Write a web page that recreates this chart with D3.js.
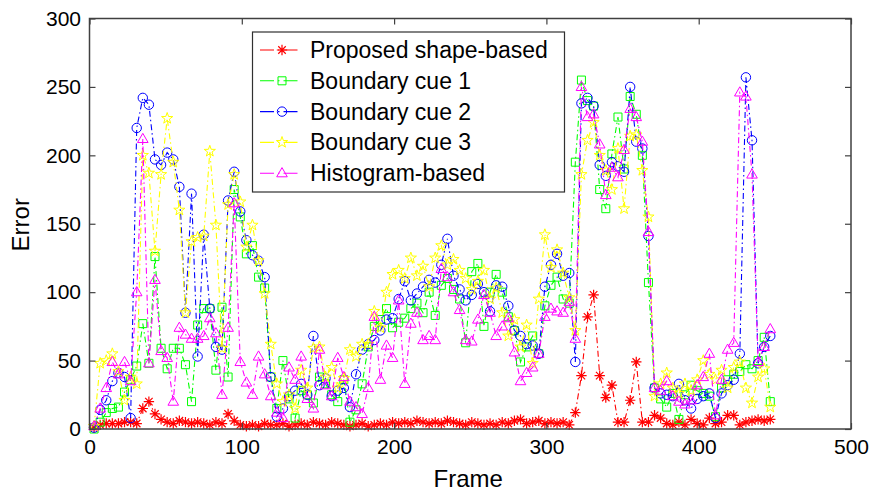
<!DOCTYPE html>
<html>
<head>
<meta charset="utf-8">
<script src="https://cdn.jsdelivr.net/npm/d3@7"></script>
<style>
  html, body { margin: 0; padding: 0; background: #fff; }
  svg { display: block; }
  text { font-family: "Liberation Sans", Arial, Helvetica, sans-serif; fill: #000; }
</style>
</head>
<body>
<svg id="chart" width="872" height="491"></svg>
<script>
// Sampled frame numbers (every 4th frame)
const frames = [3,7,11,15,19,23,27,31,35,39,43,47,51,55,59,63,67,71,75,79,
  83,87,91,95,99,103,107,111,115,119,123,127,131,135,139,143,147,151,155,159,
  163,167,171,175,179,183,187,191,195,199,203,207,211,215,219,223,227,231,235,239,
  243,247,251,255,259,263,267,271,275,279,283,287,291,295,299,303,307,311,315,319,
  323,327,331,335,339,343,347,351,355,359,363,367,371,375,379,383,387,391,395,399,
  403,407,411,415,419,423,427,431,435,439,443,447];

const proposedShape = [1,3,4,4,4,5,5,4,15,20, 11,7,5,4,6,5,4,5,4,3,
  5,4,11,6,3,2,3,2,4,3, 3,4,2,3,4,3,5,4,3,5, 4,3,2,3,4,2,3,4,3,5,
  4,5,4,6,5,4,5,4,6,5, 4,3,5,4,3,4,3,5,4,6, 7,4,5,6,4,5,4,5,3,12,
  39,82,98,39,23,32,5,5,21,49, 5,5,10,8,4,3,5,3,7,4, 3,8,4,5,10,10,3,5,6,7, 6,7];

const boundaryCue1 = [0,5,12,15,16,27,36,46,77,48, 126,59,44,59,59,47,20,76,88,88,
  43,89,38,175,155,128,134,111,103,38, 15,50,22,8,28,25,19,38,33,25,
  20,36,5,14,33,60,75,80,88,74, 78,81,88,92,85,100,83,105,110,102,
  95,63,115,121,75,100,113,100,82,72, 49,60,68,55,90,105,111,95,92,195,
  255,240,236,175,161,201,228,190,243,230, 200,107,30,22,16,26,7,25,32,28,
  26,24,9,30,36,40,42,47,44,50, 67,20];

const boundaryCue2 = [1,14,21,35,41,38,8,220,242,237, 197,193,202,197,177,85,172,53,142,88,
  60,58,167,188,159,138,127,123,111,38, 9,15,24,28,33,25,68,32,37,24,
  28,30,16,40,58,62,65,72,80,81, 95,108,94,99,104,109,107,120,139,112,
  102,94,98,106,100,86,105,104,90,72, 68,62,61,55,104,120,128,112,114,49,
  238,242,236,193,185,195,192,188,250,210, 205,141,30,26,25,24,33,21,15,22,
  24,26,8,26,32,36,55,257,211,48, 60,68];

const boundaryCue3 = [2,48,50,55,42,21,38,33,200,187, 130,186,227,195,160,85,137,140,141,203,
  149,59,164,186,166,133,149,123,99,62, 33,20,25,15,43,30,59,60,38,45,
  30,37,58,53,62,62,86,74,100,113, 116,110,125,112,119,104,125,134,120,124,
  116,110,102,108,116,95,103,85,68,80, 60,76,48,95,142,118,131,114,96,72,
  186,211,224,200,189,175,205,161,214,215, 189,155,24,33,41,30,26,33,28,36,
  50,40,36,43,30,45,49,30,19,38, 44,16];

const histogramBased = [2,15,30,49,40,49,35,100,212,48, 109,57,52,20,74,69,66,66,68,81,
  70,25,74,165,49,34,25,53,40,24, 12,8,45,36,53,22,15,58,32,24,
  52,38,20,16,11,30,82,36,61,52, 94,33,77,85,65,68,65,117,111,100,
  87,65,64,80,98,85,68,75,81,56, 35,41,45,55,82,88,86,85,93,66,
  250,228,230,208,171,191,184,204,234,228, 210,144,30,28,35,24,20,18,21,32,
  38,55,10,36,58,63,246,243,186,49, 60,73];

const xTicks = [0,100,200,300,400,500];
const yTicks = [0,50,100,150,200,250,300];

const seriesNames = ["Proposed shape-based","Boundary cue 1","Boundary cue 2","Boundary cue 3","Histogram-based"];
const seriesValues = [proposedShape, boundaryCue1, boundaryCue2, boundaryCue3, histogramBased];
const seriesColors = ["#ff0000","#00ff00","#0000ff","#ffff00","#ff00ff"];
const seriesMarkers = ["asterisk","square","circle","pentagram","triangle"];

// Marker outline paths centred on the origin
function markerPath(kind) {
  const p = d3.path();
  if (kind === "asterisk") {
    const r = 5.2, d = r * 0.72;
    p.moveTo(-r, 0); p.lineTo(r, 0);
    p.moveTo(0, -r); p.lineTo(0, r);
    p.moveTo(-d, -d); p.lineTo(d, d);
    p.moveTo(-d, d); p.lineTo(d, -d);
  } else if (kind === "square") {
    p.rect(-4, -4, 8, 8);
  } else if (kind === "circle") {
    p.moveTo(4.7, 0);
    p.arc(0, 0, 4.7, 0, 2 * Math.PI);
  } else if (kind === "pentagram") {
    const R = 5.9, r0 = R * 0.40;
    for (let k = 0; k < 10; k++) {
      const a = -Math.PI / 2 + k * Math.PI / 5;
      const rr = k % 2 === 0 ? R : r0;
      const px = rr * Math.cos(a), py = rr * Math.sin(a);
      if (k === 0) p.moveTo(px, py); else p.lineTo(px, py);
    }
    p.closePath();
  } else if (kind === "triangle") {
    p.moveTo(0, -5.6); p.lineTo(5.3, 3.6); p.lineTo(-5.3, 3.6); p.closePath();
  }
  return p.toString();
}

const svg = d3.select("#chart");
const plotLeft = 89.5, plotRight = 851, plotTop = 18.5, plotBottom = 429;

const x = d3.scaleLinear().domain([0, 500]).range([plotLeft, plotRight]);
const y = d3.scaleLinear().domain([0, 300]).range([plotBottom, plotTop]);

const axisColor = "#404040";
const tickFont = 21;

// Series lines and markers, drawn in plotting order
const plot = svg.append("g");
seriesValues.forEach((vals, si) => {
  const pts = frames.map((f, i) => [f, vals[i]]);
  const line = d3.line().x(d => x(d[0])).y(d => y(d[1]));
  const g = plot.append("g");
  g.append("path")
    .attr("d", line(pts))
    .attr("fill", "none")
    .attr("stroke", seriesColors[si])
    .attr("stroke-width", 1.1)
    .attr("stroke-dasharray", "6,3,1.5,3");
  const mp = markerPath(seriesMarkers[si]);
  g.selectAll("path.m").data(pts).enter().append("path")
    .attr("class", "m")
    .attr("d", mp)
    .attr("transform", d => `translate(${x(d[0])},${y(d[1])})`)
    .attr("fill", "none")
    .attr("stroke", seriesColors[si])
    .attr("stroke-width", si === 0 ? 1.2 : 1);
});

// Axes with inward ticks on all four sides
function styleAxis(g) {
  g.select(".domain").remove();
  g.selectAll("line").attr("stroke", axisColor).attr("stroke-width", 1.2);
  g.selectAll("text")
    .style("font-family", '"Liberation Sans", Arial, Helvetica, sans-serif')
    .style("font-size", tickFont + "px")
    .attr("fill", "#000");
}

svg.append("g").attr("transform", `translate(0,${plotBottom})`)
  .call(d3.axisBottom(x).tickValues(xTicks).tickFormat(d3.format("d")).tickSize(-6).tickSizeOuter(0).tickPadding(10))
  .call(styleAxis);
svg.append("g").attr("transform", `translate(0,${plotTop})`)
  .call(d3.axisTop(x).tickValues(xTicks).tickFormat("").tickSize(-6).tickSizeOuter(0))
  .call(styleAxis);
svg.append("g").attr("transform", `translate(${plotLeft},0)`)
  .call(d3.axisLeft(y).tickValues(yTicks).tickFormat(d3.format("d")).tickSize(-6).tickSizeOuter(0).tickPadding(8.5))
  .call(styleAxis);
svg.append("g").attr("transform", `translate(${plotRight},0)`)
  .call(d3.axisRight(y).tickValues(yTicks).tickFormat("").tickSize(-6).tickSizeOuter(0))
  .call(styleAxis);

svg.append("rect")
  .attr("x", plotLeft).attr("y", plotTop)
  .attr("width", plotRight - plotLeft).attr("height", plotBottom - plotTop)
  .attr("fill", "none").attr("stroke", axisColor).attr("stroke-width", 1.5);

// Axis titles
svg.append("text")
  .attr("x", (plotLeft + plotRight) / 2 - 2).attr("y", 487)
  .attr("text-anchor", "middle")
  .style("font-size", "24px")
  .text("Frame");
svg.append("text")
  .attr("transform", `translate(28.5,${(plotTop + plotBottom) / 2 + 1}) rotate(-90)`)
  .attr("text-anchor", "middle")
  .style("font-size", "24px")
  .text("Error");

// Legend
const legend = svg.append("g");
legend.append("rect")
  .attr("x", 252.5).attr("y", 32).attr("width", 312).attr("height", 160)
  .attr("fill", "#fff").attr("stroke", "#303030").attr("stroke-width", 1.2);
const rowY = [50, 80.8, 111.6, 142.4, 173.2];
seriesNames.forEach((name, si) => {
  const cy = rowY[si];
  legend.append("line")
    .attr("x1", 260).attr("x2", 298).attr("y1", cy).attr("y2", cy)
    .attr("stroke", seriesColors[si]).attr("stroke-width", 1.1)
    .attr("stroke-dasharray", "14,4,1.5,4");
  legend.append("path")
    .attr("d", markerPath(seriesMarkers[si]))
    .attr("transform", `translate(282,${cy})`)
    .attr("fill", "none").attr("stroke", seriesColors[si]).attr("stroke-width", si === 0 ? 1.2 : 1);
  legend.append("text")
    .attr("x", 310).attr("y", cy + 8)
    .style("font-size", "23px")
    .text(name);
});
</script>
</body>
</html>
